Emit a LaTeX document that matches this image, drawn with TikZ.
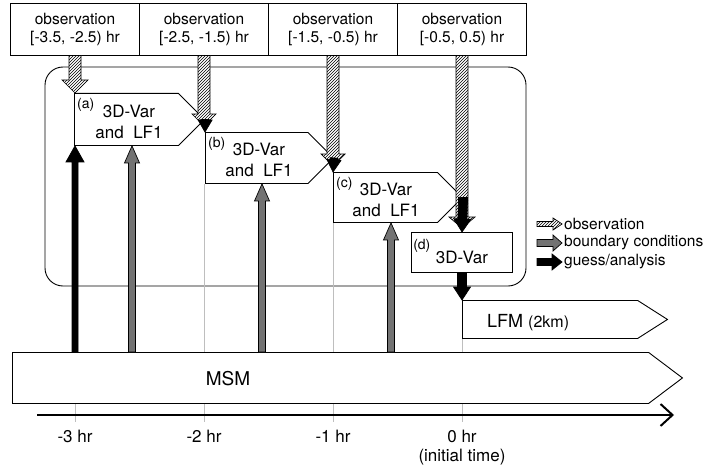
\documentclass[tikz,border=0pt]{standalone}
\usepackage{fontspec}
\setmainfont{TeX Gyre Heros}
\usetikzlibrary{arrows.meta,calc,patterns,positioning,shapes.symbols,backgrounds}

\definecolor{bcgray}{RGB}{115,115,115}
\definecolor{gridgray}{RGB}{190,190,190}

% fat arrow: style, from, to, shaft half width, head half width, head length
\newcommand{\fatarrow}[6]{%
  \path (#2) coordinate (fa-s) (#3) coordinate (fa-e);
  \coordinate (fa-h) at ($(fa-e)!#6!(fa-s)$);
  \draw[#1] ($(fa-s)!#4!90:(fa-e)$) -- ($(fa-h)!#4!90:(fa-e)$) -- ($(fa-h)!#5!90:(fa-e)$)
    -- (fa-e) -- ($(fa-h)!#5!-90:(fa-e)$) -- ($(fa-h)!#4!-90:(fa-e)$) -- ($(fa-s)!#4!-90:(fa-e)$) -- cycle;}

\tikzset{
  obsbox/.style={draw, line width=.9pt, minimum width=129pt, minimum height=52pt, inner sep=0pt,
    align=center, font=\fontsize{15.5}{18}\selectfont},
  block/.style={signal, signal to=east, signal pointer angle=90, draw, line width=.9pt, fill=white, inner sep=0pt},
  obsarrow/.style={draw, line width=.7pt, preaction={fill=white}, pattern=north east lines},
  bcarrow/.style={draw, line width=.7pt, fill=bcgray},
  gaarrow/.style={draw, line width=.7pt, fill=black},
  gridline/.style={gridgray, line width=.6pt},
  tag/.style={font=\fontsize{14}{14}\selectfont, inner sep=0pt, anchor=north west},
  blocktext/.style={font=\fontsize{17}{21}\selectfont, align=center, inner sep=0pt},
  axislabel/.style={font=\fontsize{17}{17}\selectfont, inner sep=0pt},
  legtext/.style={font=\fontsize{15.5}{15.5}\selectfont, inner sep=0pt},
}

\begin{document}
\begin{tikzpicture}[x=1pt, y=-1pt]
\useasboundingbox (0,0) rectangle (711,468);
    \coordinate (t3) at (75,415);
    \coordinate (t2) at (204,415);
    \coordinate (t1) at (333,415);
    \coordinate (t0) at (462,415);
% observation windows
\foreach \lab [count=\i] in {{[-3.5, -2.5) hr},{[-2.5, -1.5) hr},{[-1.5, -0.5) hr},{[-0.5, 0.5) hr}}
    \node[obsbox] (obs\i) at ({75+129*(\i-1)},29) {observation\\{}\lab};
% cycles
\node[block, minimum width=130pt, minimum height=52pt, anchor=north west] (A) at (74,93) {};
\node[block, minimum width=128pt, minimum height=51pt, anchor=north west] (B) at (205,132) {};
\node[block, minimum width=129pt, minimum height=50pt, anchor=north west] (C) at (333,172) {};
\node[draw, line width=.9pt, fill=white, minimum width=101pt, minimum height=40pt, anchor=north] (D) at (462,232) {};
\node[block, signal pointer angle=65, minimum width=205pt, minimum height=38pt, anchor=north west] (LFM) at (462,300) {};
\node[block, signal pointer angle=74, minimum width=670pt, minimum height=51pt, anchor=north west] (MSM) at (12,352) {};
    \node[tag] (Atag) at ($(A.north west)+(3,5)$) {(a)};
    \node[tag] (Btag) at ($(B.north west)+(3,5)$) {(b)};
    \node[tag] (Ctag) at ($(C.north west)+(3,5)$) {(c)};
    \node[tag] (Dtag) at ($(D.north west)+(2,7)$) {(d)};
    \node[blocktext] (Atext) at ($(A.west)+(55,2)$) {3D-Var\\and\ \ LF1};
    \node[blocktext] (Btext) at ($(B.west)+(54,2)$) {3D-Var\\and\ \ LF1};
    \node[blocktext] (Ctext) at ($(C.west)+(53,2)$) {3D-Var\\and\ \ LF1};
    \node[blocktext] (Dtext) at ($(D.center)+(0,5)$) {3D-Var};
    \node[font=\fontsize{19}{19}\selectfont, inner sep=0pt] (MSMtext) at ($(MSM.west)+(216,1)$) {MSM};
    \node[font=\fontsize{18}{18}\selectfont, inner sep=0pt, anchor=west] (LFMtext) at ($(LFM.west)+(25,3)$) {LFM {\fontsize{16}{16}\selectfont(2km)}};
\begin{scope}[on background layer]
    \draw[line width=.9pt, rounded corners=18pt] (45,67) rectangle (526,286);
    \foreach \t/\b in {t3/A, t2/B, t1/C, t0/LFM}
        \draw[gridline] (\t |- \b.south) -- ($(\t)+(0,7)$);
\end{scope}
% observation input
    \coordinate (oe2) at ($(obs2.south |- B.north)+(0,-6)$);
    \coordinate (oe3) at ($(obs3.south |- C.north)+(0,-6)$);
    \coordinate (oe4) at ($(obs4.south |- D.north)+(0,-4)$);
\fatarrow{obsarrow}{obs1.south}{obs1.south |- A.north}{6pt}{13pt}{13pt}
\fatarrow{obsarrow}{obs2.south}{oe2}{6pt}{12pt}{12pt}
\fatarrow{obsarrow}{obs3.south}{oe3}{6pt}{12pt}{12pt}
\fatarrow{obsarrow}{obs4.south}{oe4}{6pt}{13pt}{11pt}
% guess / analysis
\fatarrow{gaarrow}{A.east}{B.north west}{4pt}{7pt}{12pt}
\fatarrow{gaarrow}{B.east}{C.north west}{4pt}{7pt}{12pt}
\fatarrow{gaarrow}{C.east}{D.north}{4.5pt}{8.5pt}{13pt}
\fatarrow{gaarrow}{D.south}{LFM.north west}{4.5pt}{8.5pt}{13pt}
\fatarrow{gaarrow}{t3 |- MSM.north}{t3 |- A.south}{3pt}{9pt}{16pt}
% boundary conditions
    \coordinate (bc1) at ($(A.south west)+(58,0)$);
    \coordinate (bc2) at ($(B.south west)+(57,0)$);
    \coordinate (bc3) at ($(C.south west)+(58,0)$);
\foreach \c in {bc1,bc2,bc3}
    \fatarrow{bcarrow}{\c |- MSM.north}{\c}{3.5pt}{7.5pt}{17pt}
% time axis
    \coordinate (axs) at (37,415);
    \coordinate (axe) at (674,415);
\draw[line width=2pt, -{Straight Barb[length=12pt, width=22pt]}] (axs) -- (axe);
\foreach \t/\lab in {t3/-3, t2/-2, t1/-1, t0/0}
    \node[axislabel] (lab\t) at ($(\t)+(0,21)$) {\lab\ hr};
    \node[axislabel, below=6pt of labt0] (init) {(initial time)};
% legend
    \coordinate (leg1) at (537,224); \coordinate (leg1e) at (562,224);
    \coordinate (leg2) at (537,243); \coordinate (leg2e) at (562,243);
    \coordinate (leg3) at (537,262); \coordinate (leg3e) at (562,262);
\fatarrow{obsarrow}{leg1}{leg1e}{2.5pt}{6pt}{9pt}
\fatarrow{bcarrow}{leg2}{leg2e}{3.5pt}{8pt}{9pt}
\fatarrow{gaarrow}{leg3}{leg3e}{3.5pt}{8pt}{10pt}
    \node[legtext, right=2pt of leg1e] (leg1t) {observation};
    \node[legtext, right=2pt of leg2e] (leg2t) {boundary conditions};
    \node[legtext, right=2pt of leg3e] (leg3t) {guess/analysis};
\end{tikzpicture}
\end{document}
